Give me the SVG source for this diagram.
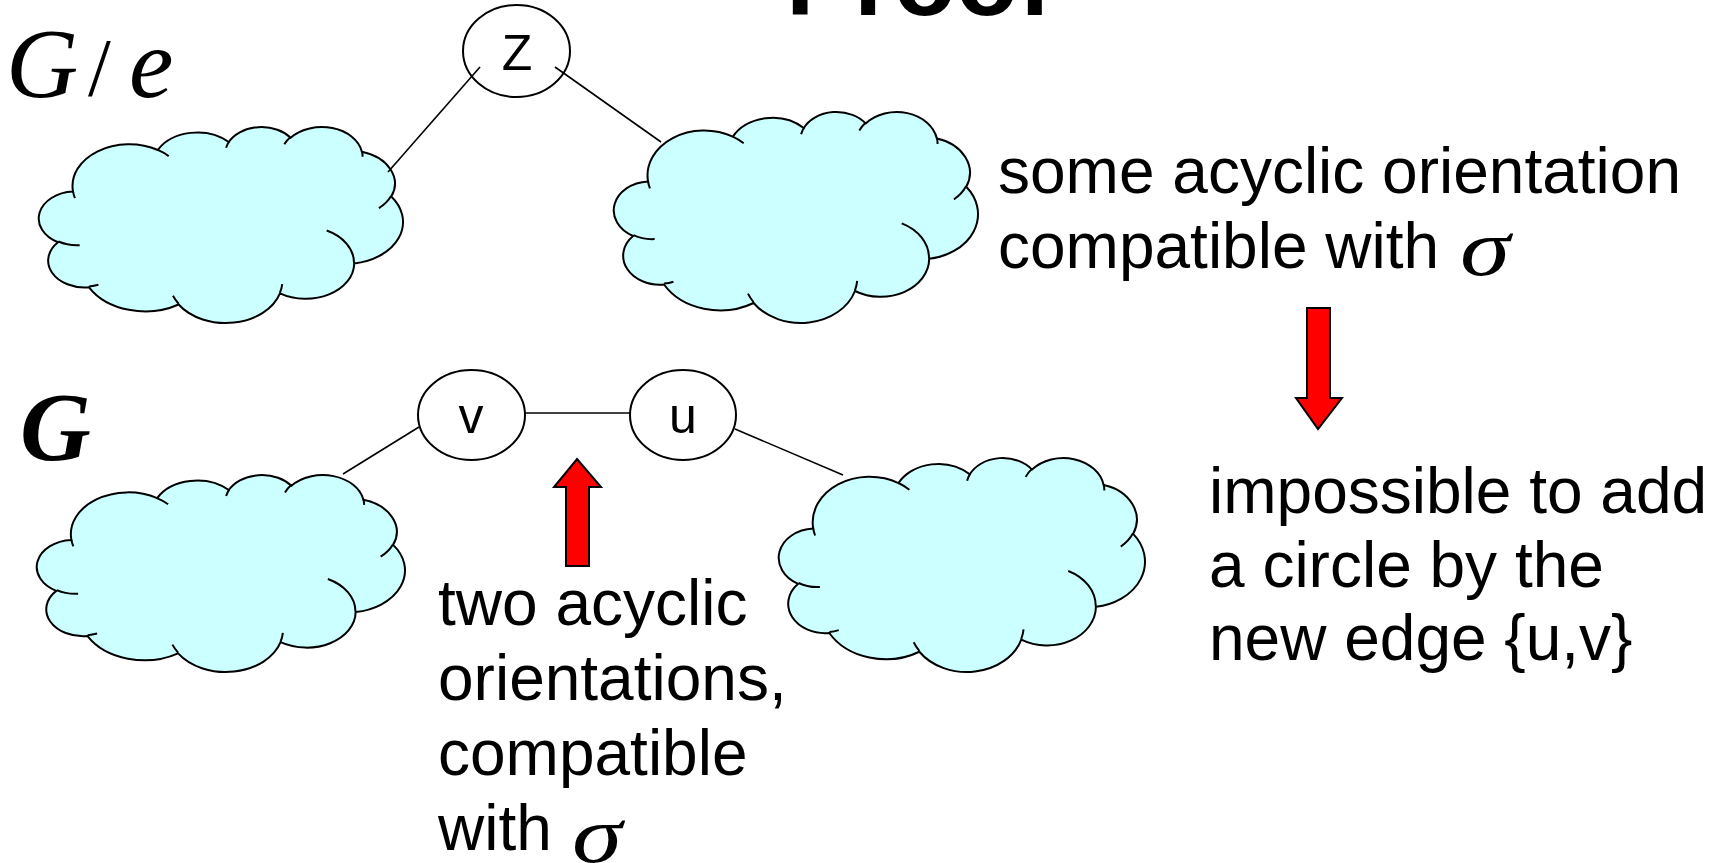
<svg xmlns="http://www.w3.org/2000/svg" xmlns:xlink="http://www.w3.org/1999/xlink" width="1725" height="863" viewBox="0 0 1725 863">
<style>
.cloud-body{fill:#CCFFFF;stroke:#000;stroke-width:2;vector-effect:non-scaling-stroke}
.cloud-inner{fill:none;stroke:#000;stroke-width:2;vector-effect:non-scaling-stroke}
.node-ell{fill:#fff;stroke:#000;stroke-width:2}
.edge{stroke:#000;stroke-width:1.6;fill:none}
.lbl{font-family:"Liberation Sans",Arial,sans-serif;font-size:50px;text-anchor:middle;fill:#000}
.body{font-family:"Liberation Sans",Arial,sans-serif;font-size:64px;fill:#000}
.math{font-family:"Liberation Serif","Times New Roman",serif;font-style:italic;fill:#000}
.arrow{fill:#FF0000;stroke:#000;stroke-width:2;stroke-linejoin:miter}
</style>
<defs>
<g id="cloud">
<path class="cloud-body" d="M3900 14370 A6753 9190 0 0 1 14004.5 5201.4 A5333 7267 0 0 1 22456.5 3433 A4365 5945 0 0 1 29834.3 2481.6 A4857 6595 0 0 1 38319.8 5576.3 A5333 7273 0 0 1 41820.2 15460.2 A6775 9220 0 0 1 37405.5 30202.5 A5785 7867 0 0 1 28556.8 36812.4 A6752 9215 0 0 1 16482.2 39265.9 A7720 10543 0 0 1 5806.4 35472.6 A4360 5918 0 0 1 2114.7 25551.3 A4345 5945 0 0 1 3900 14370 Z"/>
<path class="cloud-inner" d="M4693 26177 A4345 5945 0 0 1 2159.9 25380.1 M6928 34899 A4360 5918 0 0 1 5819.7 35280.4 M16478 39090 A6752 9215 0 0 1 15809.3 37347.9 M28827 34751 A6752 9215 0 0 1 28560.4 36659.8 M34129 22954 A5785 7867 0 0 1 37380.3 30089.5 M41798 15354 A5333 7273 0 0 1 40350 18029.7 M38324 5426 A4857 6595 0 0 1 38400.4 6689.6 M29078 3952 A4857 6595 0 0 1 29819.6 2339.9 M22141 4720 A4365 5945 0 0 1 22499.9 3330.8 M14000 5192 A6753 9190 0 0 1 15301.8 6542.7 M4127 15789 A6753 9190 0 0 1 3900.4 14371.6"/>
</g>
</defs>
<rect x="0" y="0" width="1725" height="863" fill="#fff"/>

<text id="title" x="786" y="15" font-family="Liberation Sans, Arial, sans-serif" font-weight="bold" font-size="102">Proof</text>

<g id="label-Ge">
<text class="math" x="6" y="97" font-size="100">G</text>
<text x="88" y="95" font-family="Liberation Serif, Times New Roman, serif" font-size="82">/</text>
<text class="math" x="129" y="97" font-size="100">e</text>
</g>
<g id="label-G">
<text class="math" x="20" y="460" font-size="98" font-weight="bold">G</text>
</g>

<g id="cloud-tl"><use xlink:href="#cloud" transform="translate(40.3,126.4) scale(0.008392,0.004536)"/></g>
<g id="cloud-tr"><use xlink:href="#cloud" transform="translate(615.3,111.3) scale(0.008392,0.004882)"/></g>
<g id="cloud-bl"><use xlink:href="#cloud" transform="translate(38.3,474.4) scale(0.008484,0.004558)"/></g>
<g id="cloud-br"><use xlink:href="#cloud" transform="translate(780.3,457.3) scale(0.008438,0.004952)"/></g>

<g id="node-z"><ellipse class="node-ell" cx="516.5" cy="51" rx="53.5" ry="46"/><text class="lbl" x="517" y="70">Z</text></g>
<g id="node-v"><ellipse class="node-ell" cx="471.5" cy="415" rx="53.5" ry="45"/><text class="lbl" x="471" y="433">v</text></g>
<g id="node-u"><ellipse class="node-ell" cx="683" cy="415" rx="53" ry="45"/><text class="lbl" x="683" y="433">u</text></g>

<g id="connectors">
<line class="edge" x1="480" y1="67" x2="388" y2="172"/>
<line class="edge" x1="555" y1="67" x2="661" y2="142"/>
<line class="edge" x1="525" y1="413" x2="630" y2="413"/>
<line class="edge" x1="419" y1="427" x2="343" y2="474"/>
<line class="edge" x1="735" y1="429" x2="843" y2="475"/>
</g>

<g id="arrow-down"><polygon class="arrow" points="1307,308 1330,308 1330,398 1342,398 1318,429 1296,398 1307,398"/></g>
<g id="arrow-up"><polygon class="arrow" points="577,459 601,487 589,487 589,566 566,566 566,487 554,487"/></g>

<g id="text-some">
<text class="body" x="998" y="193">some acyclic orientation</text>
<text class="body" x="998" y="268">compatible with</text>
<text class="math" x="1460" y="275" font-size="80" textLength="50" lengthAdjust="spacingAndGlyphs">σ</text>
</g>
<g id="text-impossible">
<text class="body" x="1209" y="513">impossible to add</text>
<text class="body" x="1209" y="587">a circle by the</text>
<text class="body" x="1209" y="660">new edge {u,v}</text>
</g>
<g id="text-two">
<text class="body" x="438" y="625">two acyclic</text>
<text class="body" x="438" y="700">orientations,</text>
<text class="body" x="438" y="775">compatible</text>
<text class="body" x="438" y="850">with</text>
<text class="math" x="572" y="862" font-size="80" textLength="50" lengthAdjust="spacingAndGlyphs">σ</text>
</g>
</svg>
